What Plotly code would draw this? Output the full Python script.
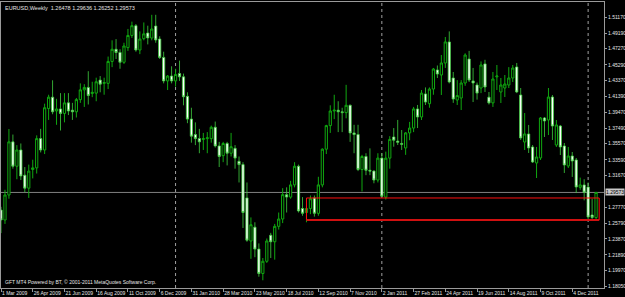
import plotly.graph_objects as go
import pandas as pd

# ---------------- data (EURUSD weekly) ----------------
week_start = "2009-03-01"

opens = [1.2741, 1.2618, 1.2926, 1.3580, 1.3280, 1.3480, 1.3170, 1.3010, 1.3240, 1.3260,
         1.3620, 1.3480, 1.3990, 1.4130, 1.3960, 1.3985, 1.3930, 1.4060, 1.3970, 1.3950,
         1.4100, 1.4220, 1.4250, 1.4175, 1.4180, 1.4340, 1.4300, 1.4300, 1.4570, 1.4720,
         1.4680, 1.4560, 1.4740, 1.4890, 1.5010, 1.4711, 1.4850, 1.4920, 1.4858, 1.5006,
         1.4846, 1.4620, 1.4330, 1.4390, 1.4330, 1.4420, 1.4380, 1.4140, 1.3860, 1.3670,
         1.3620, 1.3610, 1.3620, 1.3620, 1.3760, 1.3530, 1.3410, 1.3560, 1.3440, 1.3500,
         1.3340, 1.3300, 1.2890, 1.2360, 1.2530, 1.2260, 1.1960, 1.2110, 1.2430, 1.2350,
         1.2540, 1.2630, 1.2930, 1.2900, 1.3050, 1.3280, 1.2760, 1.2710, 1.2760, 1.2890,
         1.2700, 1.3050, 1.3490, 1.3780, 1.3960, 1.3970, 1.3950, 1.3940, 1.4030, 1.3690,
         1.3670, 1.3240, 1.3400, 1.3230, 1.3220, 1.3110, 1.3380, 1.2900, 1.3380, 1.3640,
         1.3590, 1.3560, 1.3505, 1.3690, 1.3750, 1.3985, 1.3886, 1.4170, 1.4050, 1.4230,
         1.4465, 1.4403, 1.4551, 1.4810, 1.4366, 1.4095, 1.4120, 1.4305, 1.4600, 1.4330,
         1.4280, 1.4243, 1.4540, 1.4130, 1.4060, 1.4380, 1.4194, 1.4243, 1.4280, 1.4366,
         1.4502, 1.4157, 1.3578, 1.3677, 1.3517, 1.3320, 1.3382, 1.3874, 1.3849, 1.4132,
         1.3541, 1.3775, 1.3529, 1.3283, 1.3406, 1.3357, 1.3020, 1.3050, 1.3024, 1.2680,
         1.26478]
highs = [1.2780, 1.2990, 1.3738, 1.3670, 1.3540, 1.3560, 1.3270, 1.3300, 1.3360, 1.3660,
         1.3740, 1.4050, 1.4160, 1.4338, 1.4110, 1.4180, 1.4180, 1.4180, 1.4060, 1.4120,
         1.4300, 1.4290, 1.4450, 1.4320, 1.4370, 1.4390, 1.4370, 1.4630, 1.4830, 1.4845,
         1.4720, 1.4800, 1.4970, 1.5060, 1.5030, 1.4940, 1.5050, 1.5010, 1.5144, 1.5144,
         1.4880, 1.4690, 1.4403, 1.4510, 1.4480, 1.4580, 1.4420, 1.4190, 1.4000, 1.3820,
         1.3740, 1.3690, 1.3700, 1.3780, 1.3830, 1.3580, 1.3580, 1.3580, 1.3690, 1.3540,
         1.3400, 1.3330, 1.3080, 1.2650, 1.2590, 1.2330, 1.2150, 1.2390, 1.2460, 1.2570,
         1.2710, 1.3010, 1.3020, 1.3100, 1.3330, 1.3300, 1.2900, 1.2800, 1.2920, 1.2920,
         1.3150, 1.3500, 1.3790, 1.4030, 1.4160, 1.4080, 1.4000, 1.4282, 1.4040, 1.3790,
         1.3790, 1.3420, 1.3440, 1.3500, 1.3230, 1.3440, 1.3440, 1.3460, 1.3650, 1.3750,
         1.3850, 1.3726, 1.3700, 1.3826, 1.4010, 1.4034, 1.4218, 1.4250, 1.4250, 1.4490,
         1.4520, 1.4649, 1.4871, 1.4940, 1.4440, 1.4340, 1.4340, 1.4670, 1.4700, 1.4490,
         1.4310, 1.4570, 1.4590, 1.4194, 1.4440, 1.4526, 1.4366, 1.4403, 1.4500, 1.4526,
         1.4551, 1.4243, 1.3935, 1.3788, 1.3541, 1.3517, 1.3886, 1.3886, 1.4243, 1.4157,
         1.3849, 1.3788, 1.3566, 1.3517, 1.3455, 1.3381, 1.3140, 1.3120, 1.3080, 1.2880,
         1.29636]
lows = [1.2457, 1.2570, 1.2880, 1.3250, 1.3120, 1.3110, 1.2960, 1.2890, 1.3130, 1.3190,
        1.3450, 1.3430, 1.3850, 1.3920, 1.3790, 1.3720, 1.3820, 1.3910, 1.3850, 1.3880,
        1.4060, 1.4010, 1.4040, 1.4130, 1.4080, 1.4190, 1.4160, 1.4230, 1.4500, 1.4600,
        1.4480, 1.4540, 1.4700, 1.4860, 1.4690, 1.4660, 1.4830, 1.4780, 1.4830, 1.4800,
        1.4600, 1.4300, 1.4218, 1.4300, 1.4260, 1.4330, 1.4030, 1.3810, 1.3570, 1.3540,
        1.3440, 1.3480, 1.3440, 1.3570, 1.3510, 1.3270, 1.3330, 1.3290, 1.3400, 1.3250,
        1.3080, 1.2520, 1.2350, 1.2140, 1.2160, 1.1920, 1.1876, 1.2090, 1.2150, 1.2130,
        1.2500, 1.2580, 1.2710, 1.2880, 1.3020, 1.2710, 1.2670, 1.2590, 1.2690, 1.2660,
        1.2670, 1.3020, 1.3430, 1.3690, 1.3860, 1.3700, 1.3700, 1.3870, 1.3580, 1.3440,
        1.3220, 1.2969, 1.3170, 1.3170, 1.3070, 1.3080, 1.2900, 1.2870, 1.3250, 1.3520,
        1.3541, 1.3480, 1.3420, 1.3600, 1.3700, 1.3750, 1.3849, 1.4034, 1.4000, 1.4160,
        1.4366, 1.4157, 1.4490, 1.4300, 1.4060, 1.4034, 1.3972, 1.4270, 1.4317, 1.4070,
        1.4100, 1.4180, 1.4194, 1.4040, 1.4010, 1.4218, 1.4058, 1.4132, 1.4243, 1.4317,
        1.4180, 1.3603, 1.3480, 1.3443, 1.3320, 1.3135, 1.3357, 1.3640, 1.3664, 1.3603,
        1.3517, 1.3418, 1.3197, 1.3258, 1.3148, 1.2950, 1.2990, 1.2860, 1.2620, 1.2624,
        1.26252]
closes = [1.2618, 1.2926, 1.3580, 1.3280, 1.3480, 1.3160, 1.3010, 1.3220, 1.3260, 1.3620,
          1.3480, 1.4000, 1.4130, 1.3950, 1.3985, 1.3930, 1.4060, 1.3960, 1.3950, 1.4100,
          1.4220, 1.4250, 1.4150, 1.4190, 1.4320, 1.4290, 1.4310, 1.4570, 1.4720, 1.4680,
          1.4560, 1.4760, 1.4890, 1.5010, 1.4711, 1.4846, 1.4910, 1.4860, 1.4969, 1.4834,
          1.4620, 1.4330, 1.4390, 1.4330, 1.4410, 1.4380, 1.4135, 1.3860, 1.3650, 1.3620,
          1.3580, 1.3620, 1.3630, 1.3760, 1.3530, 1.3400, 1.3560, 1.3440, 1.3520, 1.3380,
          1.3300, 1.2710, 1.2370, 1.2560, 1.2260, 1.1960, 1.2110, 1.2360, 1.2350, 1.2540,
          1.2630, 1.2930, 1.2900, 1.3050, 1.3280, 1.2730, 1.2700, 1.2760, 1.2880, 1.2700,
          1.3050, 1.3490, 1.3780, 1.3960, 1.3970, 1.3950, 1.3940, 1.4030, 1.3690, 1.3670,
          1.3240, 1.3400, 1.3230, 1.3220, 1.3110, 1.3380, 1.2910, 1.3380, 1.3610, 1.3600,
          1.3575, 1.3550, 1.3690, 1.3750, 1.3985, 1.3886, 1.4180, 1.4070, 1.4230, 1.4477,
          1.4415, 1.4551, 1.4810, 1.4317, 1.4107, 1.4150, 1.4305, 1.4649, 1.4341, 1.4305,
          1.4180, 1.4526, 1.4255, 1.4060, 1.4354, 1.4390, 1.4280, 1.4292, 1.4366, 1.4489,
          1.4194, 1.3628, 1.3677, 1.3505, 1.3332, 1.3394, 1.3874, 1.3837, 1.4132, 1.3775,
          1.3788, 1.3517, 1.3295, 1.3406, 1.3344, 1.3024, 1.3050, 1.2960, 1.2655, 1.2650,
          1.29573]

price_labels = ["1.51170", "1.49190", "1.47270", "1.45290", "1.43370", "1.41390",
                "1.39470", "1.37490", "1.35570", "1.33590", "1.31670", "1.27770",
                "1.25790", "1.23870", "1.21890", "1.19970", "1.18050"]
date_labels = ["1 Mar 2009", "26 Apr 2009", "21 Jun 2009", "16 Aug 2009", "11 Oct 2009",
               "6 Dec 2009", "31 Jan 2010", "28 Mar 2010", "23 May 2010", "18 Jul 2010",
               "12 Sep 2010", "7 Nov 2010", "2 Jan 2011", "27 Feb 2011", "24 Apr 2011",
               "19 Jun 2011", "14 Aug 2011", "9 Oct 2011", "4 Dec 2011"]
separators = ["2010-01-03", "2011-01-02", "2012-01-01"]
bid_price = 1.29573
zone_low, zone_high = 1.2618, 1.2889
zone_start, zone_end = "2010-08-22", "2012-01-20 12:00"
header = "EURUSD,Weekly  1.26478 1.29636 1.26252 1.29573"
footer = "GFT MT4 Powered by BT, \u00a9 2001-2011 MetaQuotes Software Corp."

# ---------------- figure ----------------
dates = pd.date_range(week_start, periods=len(opens), freq="7D")
tick_dates = [pd.to_datetime(s, format="%d %b %Y") for s in date_labels]

FONT = "Liberation Sans"
TXT = "#e6e6e6"
GREEN = "#10a810"
FRAME = "#9a9a9a"

fig = go.Figure()
fig.add_trace(go.Candlestick(
    x=dates, open=opens, high=highs, low=lows, close=closes,
    increasing=dict(line=dict(color=GREEN, width=1), fillcolor="#000000"),
    decreasing=dict(line=dict(color="#40d040", width=0.8), fillcolor="#ffffff"),
    whiskerwidth=0, hoverinfo="skip", showlegend=False,
))

shapes = []
for s in separators:
    shapes.append(dict(type="line", xref="x", yref="paper", x0=s, x1=s, y0=0, y1=1,
                       line=dict(color="#a0a0a0", width=1, dash="dot"), layer="below"))
shapes.append(dict(type="line", xref="paper", yref="y", x0=0, x1=1, y0=bid_price, y1=bid_price,
                   line=dict(color="#808080", width=1), layer="below"))
shapes.append(dict(type="rect", xref="x", yref="y", x0=zone_start, x1=zone_end,
                   y0=zone_low, y1=zone_high, line=dict(color="#ff1010", width=1),
                   fillcolor="rgba(0,0,0,0)", layer="above"))
shapes.append(dict(type="line", xref="x", yref="y", x0=zone_start, x1=zone_end,
                   y0=zone_low, y1=zone_low, line=dict(color="#d01010", width=2), layer="above"))

annotations = [
    dict(text=header, xref="paper", yref="paper", x=0, y=1, xanchor="left", yanchor="top",
         xshift=2, yshift=-1, showarrow=False, font=dict(family=FONT, size=5.5, color=TXT)),
    dict(text=footer, xref="paper", yref="paper", x=0, y=0, xanchor="left", yanchor="bottom",
         xshift=2, yshift=1, showarrow=False, font=dict(family=FONT, size=5, color=TXT)),
    dict(text=f"{bid_price:.5f}", xref="paper", yref="y", x=1, y=bid_price, xanchor="left",
         yanchor="middle", xshift=1, showarrow=False, bgcolor="#c8c8c8", borderpad=0,
         font=dict(family=FONT, size=5, color="#000000")),
]

fig.update_layout(
    width=625, height=297,
    margin=dict(l=1, r=21, t=2, b=9, autoexpand=False),
    paper_bgcolor="#000000", plot_bgcolor="#000000",
    shapes=shapes, annotations=annotations,
    boxgap=0.2,
    xaxis=dict(
        type="date", range=["2009-03-01", "2012-01-29"], rangeslider=dict(visible=False),
        showgrid=False, zeroline=False, showline=True, linecolor=FRAME, linewidth=1,
        mirror=True, ticks="outside", ticklen=3, tickcolor=FRAME, automargin=False,
        tickvals=tick_dates, ticktext=date_labels, ticklabelposition="outside right",
        tickangle=0, tickfont=dict(family=FONT, size=5, color=TXT), ticklabelstandoff=0,
    ),
    yaxis=dict(
        side="right", range=[1.17810, 1.53017], showgrid=False, zeroline=False,
        showline=True, linecolor=FRAME, linewidth=1, mirror=True, automargin=False,
        ticks="outside", ticklen=2, tickcolor=FRAME, ticklabelstandoff=0,
        tickvals=[float(v) for v in price_labels], ticktext=price_labels,
        tickfont=dict(family=FONT, size=5, color=TXT),
    ),
    hovermode=False,
)

fig.write_html("out.html")
